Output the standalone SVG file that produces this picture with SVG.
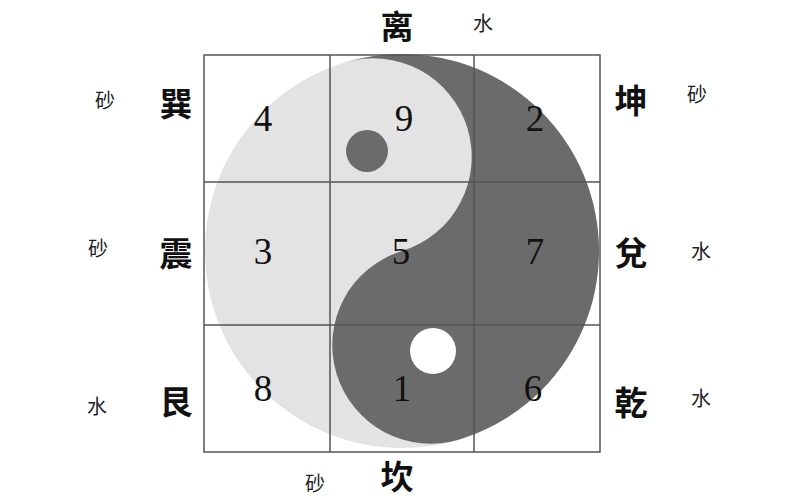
<svg xmlns="http://www.w3.org/2000/svg" width="795" height="500" viewBox="0 0 795 500">
<style>
.big{font-family:"Noto Sans CJK SC","Noto Sans CJK TC",sans-serif;font-size:33px;font-weight:700;fill:#111;text-anchor:middle;dominant-baseline:central}
.small{font-family:"Noto Sans CJK SC","Noto Sans CJK TC",sans-serif;font-size:20px;font-weight:400;fill:#222;text-anchor:middle;dominant-baseline:central}
.num{font-family:"Liberation Serif","Times New Roman",serif;font-size:37px;fill:#111;text-anchor:middle}
.grid{fill:none;stroke:#555;stroke-width:1.5}
</style>
<rect width="795" height="500" fill="#fff"/>
<g id="taiji">
<circle cx="402" cy="251" r="197" fill="#e3e3e3"/>
<path transform="translate(402 251) rotate(-17)" d="M0 -197 A197 197 0 0 1 0 197 A98.5 98.5 0 0 1 0 0 A98.5 98.5 0 0 0 0 -197 Z" fill="#6b6b6b"/>
<circle cx="367" cy="151" r="21" fill="#6b6b6b"/>
<circle cx="433" cy="351" r="23" fill="#fff"/>
</g>
<g id="grid" class="grid">
<rect x="204" y="55" width="396" height="397"/>
<line x1="330" y1="55" x2="330" y2="452"/>
<line x1="474" y1="55" x2="474" y2="452"/>
<line x1="204" y1="182" x2="600" y2="182"/>
<line x1="204" y1="325" x2="600" y2="325"/>
</g>
<g id="numbers" class="num">
<text x="263" y="131">4</text>
<text x="404" y="131">9</text>
<text x="535" y="131">2</text>
<text x="263" y="264">3</text>
<text x="401" y="264">5</text>
<text x="535" y="264">7</text>
<text x="263" y="401">8</text>
<text x="402" y="401">1</text>
<text x="533" y="401">6</text>
</g>
<g id="trigrams" class="big">
<text x="397" y="25">离</text>
<text x="176" y="102">巽</text>
<text x="176" y="252">震</text>
<text x="176" y="400">艮</text>
<text x="631" y="99">坤</text>
<text x="631" y="251">兌</text>
<text x="631" y="401">乾</text>
<text x="397" y="475">坎</text>
</g>
<g id="marks" class="small">
<text x="483" y="22">水</text>
<text x="105" y="99">砂</text>
<text x="98" y="247">砂</text>
<text x="97" y="405">水</text>
<text x="697" y="93">砂</text>
<text x="701" y="250">水</text>
<text x="701" y="397">水</text>
<text x="315" y="482">砂</text>
</g>
</svg>
